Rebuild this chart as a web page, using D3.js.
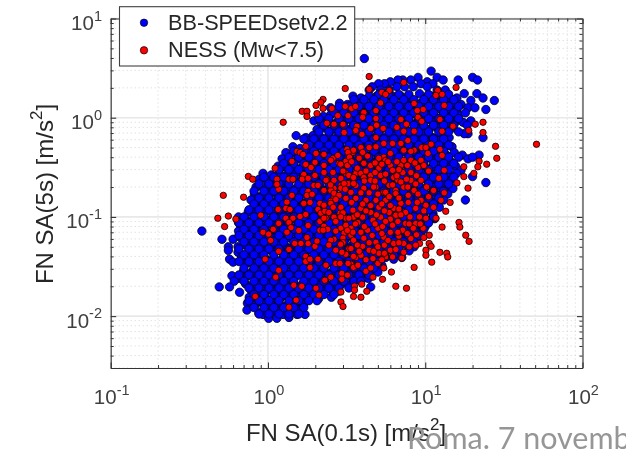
<!DOCTYPE html>
<html lang="en">
<head>
<meta charset="UTF-8">
<title>FN SA scatter</title>
<script src="https://d3js.org/d3.v7.min.js"></script>
<style>
  html, body { margin: 0; padding: 0; background: #fff; overflow: hidden; }
  svg { display: block; font-family: "Liberation Sans", Arial, sans-serif; filter: blur(0.35px); }
</style>
</head>
<body>
<svg id="chart" width="626" height="450"></svg>
<script>
// tick values
const majorTicksX = [0.1, 1, 10, 100];
const majorTicksY = [0.01, 0.1, 1, 10];
const minorSteps = [2, 3, 4, 5, 6, 7, 8, 9];
const seriesNames = ["BB-SPEEDsetv2.2", "NESS (Mw<7.5)"];

// BB-SPEED, each row is [SA(5s), SA(0.1s)...]
const blueRows = [
  [3.95, 4.1],
  [2.95, 10.9], [2.55, 11.9, 9, 20], [2.4, 13, 16.2, 8.1, 7.2, 6.7, 21.5], [2.3, 10.3, 6],
  [2.2, 5.5, 5.05, 9.4, 11.2], [2.05, 4.6, 7.4, 8.4, 6.6, 10.3], [1.9, 13.4, 5.9, 5.2, 4.4, 11.9], [1.75, 9.2, 17.7, 21.3],
  [1.65, 3.47, 4.4, 4.9, 6.2, 7, 11.2, 12.6], [1.58, 3.9, 5.5, 7.9, 10, 14.2, 15.9, 23.3],
  [1.49, 19.5, 27.5], [1.4, 2.85, 3.7, 4.6, 5.9, 7.4, 9.4, 11.9, 15], [1.36, 3.2, 4.1, 5.2, 6.6, 8.4, 10.6, 13.4, 16.9],
  [1.26, 2.5, 18.7, 20.7], [1.21, 3.1, 3.9, 4.9, 6.2, 7.9, 10, 12.6, 15.9, 24.3], [1.18, 2.85, 3.47, 4.4, 5.5, 7, 8.9, 11.2, 14.2],
  [1.07, 2.5, 3.2, 4, 5, 6.4, 8.1, 10.3, 13, 16.3], [1.03, 2.25, 2.85, 3.6, 4.5, 5.7, 7.2, 9.1, 11.5, 14.6],
  [0.93, 1.96, 2.44, 3.09, 3.9, 4.9, 6.2, 7.9, 10, 12.6, 15.9, 19.5], [0.9, 2.17, 2.75, 3.47, 4.4, 5.5, 7, 8.9, 11.2, 14.2, 17.4],
  [0.79, 2.3, 2.91, 3.68, 4.6, 5.9, 7.4, 9.4, 11.9, 15], [0.76, 2.05, 2.59, 3.27, 4.1, 5.2, 6.6, 8.4, 10.6, 13.4],
  [0.69, 18.7, 17.7], [0.66, 1.51, 1.93, 2.44, 3.09, 3.9, 4.9, 6.2, 7.9, 10, 12.6], [0.63, 1.74, 2.17, 2.75, 3.47, 4.4, 5.5, 7, 8.9, 11.2, 14.2, 23.3],
  [0.59, 1.82, 2.3, 2.91, 3.68, 4.6, 5.9, 7.4, 9.4, 11.9], [0.565, 2.05, 2.59, 3.27, 4.1, 5.2, 6.6, 8.4, 10.6, 13.4],
  [0.51, 1.44, 1.8, 2.27, 2.88, 3.63, 4.6, 5.8, 7.3, 9.3, 11.8, 14.8], [0.49, 1.6, 2, 2.55, 3.23, 4.1, 5.1, 6.5, 8.3, 10.5, 13.2],
  [0.445, 1.3, 1.46, 1.85, 2.34, 2.96, 3.74, 4.7, 6, 7.6, 9.6, 12.1, 15.3], [0.42, 1.64, 2.08, 2.63, 3.33, 4.2, 5.3, 6.7, 8.5, 10.8, 13.6, 17.2, 22],
  [0.385, 1.23, 1.55, 1.96, 2.48, 3.13, 4, 5, 6.3, 8, 10.1, 12.8, 18.7], [0.365, 1.38, 1.75, 2.2, 2.79, 3.5, 4.5, 5.6, 7.1, 9, 11.4, 14.4],
  [0.325, 1.16, 1.47, 1.86, 2.35, 2.97, 3.76, 4.8, 6, 7.7, 9.7, 12.3, 15.6], [0.315, 1.3, 1.65, 2.09, 2.64, 3.34, 4.2, 5.4, 6.8, 8.6, 11, 13.9], [0.295, 16.9],
  [0.275, 0.93, 1.18, 1.5, 1.89, 2.39, 3.03, 3.83, 4.85, 6.1, 7.8, 9.9, 12.5, 15.8], [0.265, 1.05, 1.33, 1.68, 2.13, 2.69, 3.4, 4.3, 5.45, 6.9, 8.8, 11.1, 14], [0.255, 20],
  [0.24, 0.88, 1.1, 1.4, 1.78, 2.25, 2.85, 3.6, 4.55, 5.75, 7.3, 9.2, 11.7, 14.8], [0.228, 0.99, 1.25, 1.58, 2, 2.53, 3.2, 4.05, 5.1, 6.5, 8.2, 10.4, 13.1], [0.222, 24.3],
  [0.2, 0.84, 1.06, 1.34, 1.7, 2.15, 2.72, 3.44, 4.35, 5.5, 7, 8.85, 11.2, 14.1], [0.193, 0.94, 1.19, 1.51, 1.91, 2.42, 3.06, 3.87, 4.9, 6.2, 7.85, 9.9, 12.5, 15],
  [0.17, 0.82, 1.03, 1.31, 1.65, 2.09, 2.64, 3.34, 4.2, 5.4, 6.8, 8.6, 11, 13.9], [0.164, 0.92, 1.16, 1.47, 1.86, 2.35, 2.97, 3.76, 4.8, 6, 7.7, 9.7, 12.3],
  [0.148, 0.78, 0.99, 1.25, 1.58, 2, 2.53, 3.2, 4.05, 5.1, 6.5, 8.2, 10.4, 13.1, 18], [0.142, 0.88, 1.11, 1.41, 1.78, 2.25, 2.85, 3.6, 4.55, 5.75, 7.3, 9.2, 11.7],
  [0.13, 0.82, 1.03, 1.31, 1.65, 2.09, 2.64, 3.34, 4.2, 5.4, 6.8, 8.6, 11], [0.125, 0.92, 1.16, 1.47, 1.86, 2.35, 2.97, 3.76, 4.8, 6, 7.7, 9.7, 12.3],
  [0.112, 0.75, 0.95, 1.2, 1.52, 1.92, 2.43, 3.07, 3.88, 4.9, 6.2, 7.85, 9.9], [0.108, 0.84, 1.07, 1.35, 1.71, 2.16, 2.73, 3.45, 4.36, 5.5, 7, 8.85, 11.2], [0.1, 0.65],
  [0.096, 0.71, 0.9, 1.14, 1.44, 1.82, 2.3, 2.91, 3.68, 4.6, 5.9, 7.4, 9.4, 11.5], [0.0925, 0.8, 1.01, 1.28, 1.62, 2.05, 2.59, 3.27, 4.1, 5.2, 6.6, 8.4, 10.6], [0.088, 0.65],
  [0.083, 0.67, 0.85, 1.08, 1.36, 1.72, 2.17, 2.75, 3.47, 4.4, 5.5, 7, 8.9], [0.08, 0.76, 0.96, 1.21, 1.53, 1.93, 2.44, 3.09, 3.9, 4.9, 6.2, 7.9, 10],
  [0.072, 0.38, 0.65], [0.071, 0.71, 0.9, 1.14, 1.44, 1.82, 2.3, 2.91, 3.68, 4.6, 5.9, 7.4, 9.4], [0.0685, 0.8, 1.01, 1.28, 1.62, 2.05, 2.59, 3.27, 4.1, 5.2, 6.6, 8.4],
  [0.0615, 0.67, 0.85, 1.08, 1.36, 1.72, 2.17, 2.75, 3.47, 4.4, 5.5, 7, 8.9], [0.0595, 0.51, 0.6, 0.76, 0.96, 1.21, 1.53, 1.93, 2.44, 3.09, 3.9, 4.9, 6.2, 7.9],
  [0.052, 0.72, 0.91, 1.15, 1.46, 1.85, 2.34, 2.96, 3.74, 4.7, 6, 7.6], [0.05, 0.56, 0.645, 0.81, 1.03, 1.3, 1.64, 2.08, 2.63, 3.33, 4.2, 5.3, 6.7, 8.5], [0.046, 0.56],
  [0.0455, 0.76, 0.96, 1.21, 1.53, 1.93, 2.44, 3.09, 3.9, 4.9, 6.2, 7.9], [0.044, 0.645, 0.85, 1.08, 1.36, 1.72, 2.17, 2.75, 3.47, 4.4, 5.5, 7],
  [0.039, 0.68, 0.86, 1.09, 1.38, 1.75, 2.2, 2.79, 3.5, 4.5, 5.6, 7.1], [0.0375, 0.57, 0.77, 0.97, 1.23, 1.55, 1.96, 2.48, 3.13, 4, 5, 6.3], [0.035, 0.6],
  [0.0335, 0.72, 0.91, 1.15, 1.46, 1.85, 2.34, 2.96, 3.74, 4.7], [0.0325, 0.81, 1.03, 1.3, 1.64, 2.08, 2.63, 3.33, 4.2, 5.3],
  [0.0285, 0.7, 0.89, 1.13, 1.43, 1.81, 2.29, 2.89, 3.65, 4.6], [0.0278, 0.79, 1, 1.27, 1.61, 2.03, 2.57, 3.25, 4.1, 5],
  [0.0255, 0.59, 0.74, 0.94, 1.19, 1.51, 1.91, 2.42, 3.06, 3.87], [0.024, 0.66, 0.84, 1.06, 1.34, 1.7, 2.15, 2.72, 3.44, 4.35], [0.0225, 0.61],
  [0.0212, 0.72, 0.91, 1.15, 1.46, 1.85, 2.34, 2.96], [0.0205, 0.81, 1.03, 1.3, 1.64, 2.08, 2.63, 3.3], [0.0197, 0.49, 0.57, 4.5],
  [0.0183, 0.78, 0.99, 1.25, 1.58, 2, 2.53], [0.0178, 0.88, 1.11, 1.41, 1.78, 2.25, 2.8], [0.0174, 0.66],
  [0.0155, 0.76, 0.96, 1.21, 1.53, 1.93, 2.53], [0.015, 0.85, 1.08, 1.36, 1.72, 2.1],
  [0.0135, 0.74, 0.93, 1.18, 1.5], [0.013, 0.83, 1.05, 1.33, 1.68],
  [0.0115, 0.735, 0.96, 1.21, 1.53], [0.0112, 1.08, 1.36], [0.0108, 0.875],
  [0.0104, 0.93, 1.25, 1.53, 1.72], [0.0097, 1.36], [0.0095, 1.01, 1.14]
];

// second pass over the same cloud, points seen between the bands above
const blueRowsInner = [
  [1.72, 5.07, 5.87, 6.8, 7.87, 10.5, 12.2, 14.1],
  [1.52, 3.52, 4.08, 4.72, 5.46, 6.32, 7.3, 8.47, 9.8, 11.3, 13.1, 15.2],
  [1.3, 2.83, 3.27, 3.79, 4.38, 5.07, 5.87, 6.8, 7.87, 9.1, 10.5, 12.2, 14.1, 16.3],
  [1.12, 2.63, 3.04, 3.52, 4.08, 4.72, 5.46, 6.32, 7.3, 8.47, 9.8, 11.3, 13.1, 15.2, 18],
  [0.98, 2.11, 2.44, 2.83, 3.27, 3.79, 4.38, 5.07, 5.87, 6.8, 7.87, 9.1, 10.5, 12.2, 14.1, 16.3],
  [0.84, 2.27, 2.63, 3.04, 3.52, 4.08, 4.72, 5.46, 6.32, 7.3, 8.47, 9.8, 11.3, 13.1, 15.2, 18.5],
  [0.72, 2.11, 2.44, 2.83, 3.27, 3.79, 4.38, 5.07, 5.87, 6.8, 7.87, 9.1, 10.5, 12.2, 14.1, 16.3],
  [0.61, 1.69, 1.96, 2.27, 2.63, 3.04, 3.52, 4.08, 4.72, 5.46, 6.32, 7.3, 8.47, 9.8, 11.3, 13.1],
  [0.53, 1.82, 2.11, 2.44, 2.83, 3.27, 3.79, 4.38, 5.07, 5.87, 6.8, 7.87, 9.1, 10.5, 12.2, 14.1],
  [0.46, 1.46, 1.69, 1.96, 2.27, 2.63, 3.04, 3.52, 4.08, 4.72, 5.46, 6.32, 7.3, 8.47, 9.8, 11.3, 13.1],
  [0.4, 1.36, 1.57, 1.82, 2.11, 2.44, 2.83, 3.27, 3.79, 4.38, 5.07, 5.87, 6.8, 7.87, 9.1, 10.5, 12.2, 14.1, 16.3, 20],
  [0.345, 1.26, 1.46, 1.69, 1.96, 2.27, 2.63, 3.04, 3.52, 4.08, 4.72, 5.46, 6.32, 7.3, 8.47, 9.8, 11.3, 13.1, 15.2],
  [0.3, 1.175, 1.36, 1.57, 1.82, 2.11, 2.44, 2.83, 3.27, 3.79, 4.38, 5.07, 5.87, 6.8, 7.87, 9.1, 10.5, 12.2, 14.1],
  [0.252, 0.943, 1.09, 1.26, 1.46, 1.69, 1.96, 2.27, 2.63, 3.04, 3.52, 4.08, 4.72, 5.46, 6.32, 7.3, 8.47, 9.8, 11.3, 13.1, 15.2],
  [0.215, 0.877, 1.015, 1.175, 1.36, 1.57, 1.82, 2.11, 2.44, 2.83, 3.27, 3.79, 4.38, 5.07, 5.87, 6.8, 7.87, 9.1, 10.5, 12.2, 14.1],
  [0.182, 0.815, 0.943, 1.09, 1.26, 1.46, 1.69, 1.96, 2.27, 2.63, 3.04, 3.52, 4.08, 4.72, 5.46, 6.32, 7.3, 8.47, 9.8, 11.3, 13.1],
  [0.155, 0.877, 1.015, 1.175, 1.36, 1.57, 1.82, 2.11, 2.44, 2.83, 3.27, 3.79, 4.38, 5.07, 5.87, 6.8, 7.87, 9.1, 10.5, 12.2],
  [0.135, 0.815, 0.943, 1.09, 1.26, 1.46, 1.69, 1.96, 2.27, 2.63, 3.04, 3.52, 4.08, 4.72, 5.46, 6.32, 7.3, 8.47, 9.8, 11.3],
  [0.118, 0.757, 0.877, 1.015, 1.175, 1.36, 1.57, 1.82, 2.11, 2.44, 2.83, 3.27, 3.79, 4.38, 5.07, 5.87, 6.8, 7.87, 9.1, 10.5],
  [0.1, 0.704, 0.815, 0.943, 1.09, 1.26, 1.46, 1.69, 1.96, 2.27, 2.63, 3.04, 3.52, 4.08, 4.72, 5.46, 6.32, 7.3, 8.47, 9.8, 11.3],
  [0.087, 0.654, 0.757, 0.877, 1.015, 1.175, 1.36, 1.57, 1.82, 2.11, 2.44, 2.83, 3.27, 3.79, 4.38, 5.07, 5.87, 6.8, 7.87, 9.1, 10.5],
  [0.075, 0.704, 0.815, 0.943, 1.09, 1.26, 1.46, 1.69, 1.96, 2.27, 2.63, 3.04, 3.52, 4.08, 4.72, 5.46, 6.32, 7.3, 8.47, 9.8],
  [0.065, 0.654, 0.757, 0.877, 1.015, 1.175, 1.36, 1.57, 1.82, 2.11, 2.44, 2.83, 3.27, 3.79, 4.38, 5.07, 5.87, 6.8, 7.87, 9.1],
  [0.056, 0.704, 0.815, 0.943, 1.09, 1.26, 1.46, 1.69, 1.96, 2.27, 2.63, 3.04, 3.52, 4.08, 4.72, 5.46, 6.32, 7.3, 8.47],
  [0.0475, 0.654, 0.757, 0.877, 1.015, 1.175, 1.36, 1.57, 1.82, 2.11, 2.44, 2.83, 3.27, 3.79, 4.38, 5.07, 5.87, 6.8],
  [0.0415, 0.704, 0.815, 0.943, 1.09, 1.26, 1.46, 1.69, 1.96, 2.27, 2.63, 3.04, 3.52, 4.08, 4.72, 5.46, 6.32],
  [0.0355, 0.654, 0.757, 0.877, 1.015, 1.175, 1.36, 1.57, 1.82, 2.11, 2.44, 2.83, 3.27, 3.79, 4.38, 5.07],
  [0.0305, 0.704, 0.815, 0.943, 1.09, 1.26, 1.46, 1.69, 1.96, 2.27, 2.63, 3.04, 3.52, 4.08, 4.72],
  [0.026, 0.654, 0.757, 0.877, 1.015, 1.175, 1.36, 1.57, 1.82, 2.11, 2.44, 2.83, 3.27, 3.79, 4.38],
  [0.0225, 0.704, 0.815, 0.943, 1.09, 1.26, 1.46, 1.69, 1.96, 2.27, 2.63, 3.04, 3.52, 3.9],
  [0.0192, 0.757, 0.877, 1.015, 1.175, 1.36, 1.57, 1.82, 2.11, 2.44, 2.83, 3.27],
  [0.0165, 0.815, 0.943, 1.09, 1.26, 1.46, 1.69, 1.96, 2.27, 2.63],
  [0.0143, 0.757, 0.877, 1.015, 1.175, 1.36, 1.57, 1.82, 2.05],
  [0.0122, 0.815, 0.943, 1.09, 1.26, 1.46, 1.69],
  [0.0105, 0.877, 1.015, 1.175, 1.36, 1.57]
];

// NESS records, [SA(0.1s), SA(5s)]
const redPoints = [
  [4.4,2.6],[3.1,1.97],[7.3,2.27],[15.7,2.02],[4.4,1.93],[2.24,1.53],[2.24,1.24],[2.55,1.24],[5.3,1.8],[5.9,1.88],[5.6,1.72],[12,1.88],[11.7,1.68],[12.8,1.72],[5.2,1.41],[8.5,1.39],[9.7,1.21],[8.9,1.18],[13.2,1.33],[3.1,1.3],[3.4,1.24],[3.6,1.3],
  [23.3,.9],[20.8,.86],[18.9,.745],[15,.82],[23.3,.71],[12.8,.73],[8.5,.73],[12.4,.96],[28,.515],[28.5,.39],[51,.54],[24.6,.34],[17.6,.32],[20.4,.275],[22,.365],[21.6,.32],[17.6,.255],[15.9,.22],[18.7,.195],[13.2,.175],
  [1.25,.9],[1.65,1.16],[1.77,1.16],[1.77,1.03],[2.02,1.33],[2.05,1.1],[2.17,1.43],
  [.75,.256],[.8,.24],[.52,.165],[.7,.158],[.56,.102],[.48,.097],[.625,.095],[.53,.08],[.9,.104],[1.16,.119],[.93,.07],[1.08,.075],[1.01,.067],[1.04,.058],[1.17,.045],[1.36,.047],[.96,.0375],[1.17,.029],[1.12,.0247],[1.46,.0205],[1.64,.02],[.83,.0158],[1.51,.0145],[1.36,.0123],[2.02,.0191],[2.11,.0163],[2.91,.0175],[2.91,.0139],[3,.0125],[3.5,.0158],[3.9,.0155],
  [1.17,.19],[1.11,.31],[1.42,.363],[1.14,.24],[1.14,.213],[1.36,.24],[1.44,.24],[1.42,.165],[1.32,.141],[1.3,.122],[1.38,.119],[1.3,.097],[1.44,.097],[1.17,.086],[1.36,.088],[1.4,.078],[1.32,.07],[1.57,.073],[1.48,.054],[1.62,.054],[1.77,.062],[1.8,.054],[1.99,.0505],[2.05,.057],[1.74,.04],[1.74,.0355],[1.85,.0375],[1.85,.031],[2.08,.0375],[2.34,.0326],[2.7,.034],[2.87,.034],[2.3,.023],[2.51,.0247],[2.95,.027],[2.95,.0235],[3.2,.0259],[3.55,.0201],[3.55,.0183],[1.6,.101],[1.74,.106],[1.8,.082],
  [1.53,.458],[1.6,.447],[1.67,.427],[1.74,.514],[1.74,.338],[1.88,.315],[1.99,.355],[2.24,.427],[2.02,.437],[2.59,.39],[2.78,.417],[3.18,.48],[3.47,.447],[1.69,.268],[1.65,.24],[1.8,.245],[1.99,.262],[2.27,.281],[2.59,.281],[3.13,.364],[2.83,.347],[1.96,.208],[1.8,.181],[1.77,.165],[1.91,.169],[2.08,.208],[2.27,.185],[2.37,.24],[2.63,.194],[2.91,.208],[2.63,.158],[2.51,.144],[1.69,.137],[1.85,.14],[2.14,.137],[2.08,.119],[2.17,.109],[2.3,.114],[2.63,.0995],[2.87,.109],[3.13,.097],[3.5,.0995],[2.14,.09],[2.34,.097],[2.27,.0805],[2.14,.0734],[2.4,.075],[2.7,.09],[2.63,.0595],[2.91,.077],[3.05,.0685],[3.37,.077],[3,.0612],[3.37,.0654],[3.27,.0478],[3.13,.042],[2.95,.044],[3.37,.0335],[3.5,.031],[3.62,.039],
  [14.4,.14],[13.5,.114],[12.6,.147],[12.8,.079],[16.4,.088],[16.6,.079],[18.1,.0654],[19,.0567],[10.6,.0654],[9.2,.054],[10.6,.054],[10.9,.0505],[10.1,.0462],[10.1,.0411],[12.4,.044],[13.7,.043],[13.9,.0395],[11,.035],[8.5,.031],[7.1,.0385],[6.1,.0278],[5.45,.0306],[5.35,.0235],[4.65,.0247],[3.95,.021],[6.5,.02],[7.6,.0191],[4.25,.0178],[4.2,.0283],[4.5,.0306],[5,.034],
  [2.78,1.05],[3.23,1.05],[4.07,1.13],[4.86,1.18],[4,1.01],[4.86,.98],[7,.96],[6.6,.8],[7.6,.86],[9,1.01],[9.5,.92],[7.3,.73],[4.5,.78],[5.4,.78],[4.9,.84],[3,.86],[2.63,.86],[3.68,.82],[3.62,.745],[3.96,.68],[3.05,.71],[2.37,.88],[4.86,.63],[5.45,.55],[6.2,.55],[7,.55],[7.75,.59],[9.5,.5],[10.9,.54],[10.1,.5],[10.4,.437],[8.5,.47],[12.8,.417],[12.4,.48],
  [2.27,.427],[3.5,.47],[3.9,.5],[4.4,.5],[4.86,.51],[4,.447],[3.23,.447],[5.45,.4],[6,.437],[7.3,.47],[8.1,.458],[5.07,.39],[4.07,.347],[4.5,.33],[5.6,.372],[7,.33],[7.3,.372],[8.1,.372],[9.4,.372],[6,.33],[9,.315],[8.1,.28],[7.2,.28],[3.13,.275],[3.62,.275],[3.9,.275],[2.27,.33],[2.51,.372],[5.07,.31],[6.2,.295],[6.3,.25],[5.2,.262],[4.5,.262],[4.07,.25],[3.27,.262],[2.91,.245],[2.63,.234],[2.34,.234],[3.62,.208],[3.23,.217],[2.51,.185],[2.91,.195],[4.07,.195],[4.86,.2],[5.9,.208],[5.45,.177],[6.5,.185],[7.3,.2],[8.5,.185],[9.4,.234],[12.2,.245],[11.3,.185],[13.2,.295],
  [2.63,.173],[3.05,.217],[3.5,.217],[4.7,.2],[5.6,.177],[6.5,.172],[7.75,.2],[9.4,.147],[11.3,.125],[11.7,.097],[10.1,.097],[8.7,.086],[7.5,.086],[6.3,.122],[7,.137],[5.9,.111],[5.2,.0995],[4.5,.111],[4,.0995],[3.47,.117],[2.91,.125],[2.51,.137],[2.27,.097],[3.13,.0824],[3.73,.088],[4.3,.0734],[5,.077],[6.2,.0824],[7.2,.0734],[8.4,.077],[9.7,.077],[7.3,.054],[6.3,.054],[5.45,.0625],[4.86,.0555],[4.07,.061],[3.5,.0582],[2.51,.0582],[2.24,.0734],[4.4,.0462],[5.07,.043],[6.2,.0395],[5.6,.0395],[3.23,.034],[3.73,.0326],
  [4.86,.147],[4.2,.147],[3.62,.154],[3.13,.154],[5.6,.147],[4.65,.0925],[5.35,.08],[3.47,.07],[4,.0505],[3.37,.048],[2.7,.0462],[2.44,.052],[5.5,.0519],[6.8,.064],[8.1,.0605],[4.5,.234],[6.7,.234],[8.1,.234],[3.37,.177],[3.9,.122],[3.27,.097],[5.07,.125],[7.5,.111],[8.7,.122],[6.5,.104],[10.1,.131],[3.9,.041],[4.65,.038],[6,.0462],[7.3,.044],[8.7,.0519],[2.83,.165],[2.44,.111],[2.27,.131],
  [3.3,.4],[3.8,.39],[4.3,.41],[4.8,.35],[5.3,.34],[5.8,.36],[6.6,.36],[6.8,.3],[7.7,.33],[8.6,.35],[9.8,.33],[3.2,.33],[3.7,.31],[4.2,.29],[4.8,.28],[5.6,.27],[6.6,.26],[7.6,.24],[8.8,.26],[10.5,.29],[3,.29],[3.5,.25],[4.1,.23],[4.8,.23],[5.5,.23],[6.2,.21],[7,.225],[8.7,.215],[10.2,.2],[3.1,.19],[3.9,.175],[4.4,.175],[5,.17],[5.9,.16],[6.8,.155],[7.8,.165],[9,.17],[10.5,.16],[3.4,.14],[4,.135],[4.5,.13],[5.3,.135],[6,.13],[6.8,.12],[7.8,.14],[8.9,.14],[9.8,.115],[3,.11],[3.7,.105],[4.2,.115],[4.9,.105],[5.5,.115],[6,.095],[7,.105],[8,.1],[9.2,.1],[3.6,.085],[4.1,.08],[4.8,.085],[5.6,.09],[6.7,.09],[7.9,.085],[9.3,.085],[3.2,.073],[3.9,.07],[4.6,.065],[5.3,.068],[6,.07],[6.7,.07],[7.7,.068],[8.8,.066],[9.8,.062],[3,.055],[3.7,.052],[4.4,.055],[5,.05],[5.8,.058],[6.8,.055],[7.9,.05],[3.8,.045],[4.7,.045],[5.5,.043],[6.5,.047],[2.9,.053],[3.5,.04],[4.2,.037],[5.3,.037],[2.7,.072],[2.9,.1],[2.6,.125],[2.7,.15],[2.5,.21],[2.9,.34],[3.4,.36]
];

const bluePoints = blueRows.concat(blueRowsInner).flatMap(r => r.slice(1).map(v => [v, r[0]]));

const plotLeft = 110.7, plotRight = 582.5, plotTop = 18.5, plotBottom = 368;
const darkText = "#404040", axisColor = "#333";

const x = d3.scaleLog().domain([0.1, 100]).range([plotLeft, plotRight]);
const y = d3.scaleLog().domain([0.003, 10]).range([plotBottom, plotTop]);

const minorX = majorTicksX.slice(0, -1).flatMap(t => minorSteps.map(s => s * t));
const minorY = [0.001, 0.01, 0.1, 1].flatMap(t => minorSteps.map(s => s * t)).filter(v => v >= 0.003 && v <= 10);

const svg = d3.select("#chart");

// grid
const grid = svg.append("g");
grid.append("g").selectAll("line").data(minorX).join("line")
  .attr("x1", d => x(d)).attr("x2", d => x(d)).attr("y1", plotTop).attr("y2", plotBottom)
  .attr("stroke", "#d4d4d4").attr("stroke-dasharray", "1 3");
grid.append("g").selectAll("line").data(minorY).join("line")
  .attr("y1", d => y(d)).attr("y2", d => y(d)).attr("x1", plotLeft).attr("x2", plotRight)
  .attr("stroke", "#d4d4d4").attr("stroke-dasharray", "1 3");
grid.append("g").selectAll("line").data(majorTicksX).join("line")
  .attr("x1", d => x(d)).attr("x2", d => x(d)).attr("y1", plotTop).attr("y2", plotBottom)
  .attr("stroke", "#e8e8e8").attr("stroke-width", 1.6);
grid.append("g").selectAll("line").data(majorTicksY).join("line")
  .attr("y1", d => y(d)).attr("y2", d => y(d)).attr("x1", plotLeft).attr("x2", plotRight)
  .attr("stroke", "#e8e8e8").attr("stroke-width", 1.6);

// points
const drawPoints = (data, fill, r) => svg.append("g").selectAll("circle").data(data).join("circle")
  .attr("cx", d => x(d[0])).attr("cy", d => y(d[1])).attr("r", r)
  .attr("fill", fill).attr("stroke", "#000").attr("stroke-width", 0.8);
drawPoints(bluePoints, "#0000ff", 4.2);
drawPoints(redPoints, "#ff0000", 3.2);

// axes on all four sides, ticks pointing in
const addAxis = (axisFn, scale, transform, majors, minors) => {
  const g = svg.append("g").attr("transform", transform);
  g.call(axisFn(scale).tickValues(minors).tickSize(-3).tickSizeOuter(0).tickFormat(""));
  g.select(".domain").remove();
  g.selectAll("line").attr("stroke", axisColor);
  const g2 = svg.append("g").attr("transform", transform);
  g2.call(axisFn(scale).tickValues(majors).tickSize(-5.5).tickSizeOuter(0).tickFormat(""));
  g2.select(".domain").attr("stroke", axisColor).attr("stroke-width", 1.1);
  g2.selectAll("line").attr("stroke", axisColor).attr("stroke-width", 1.1);
};
addAxis(d3.axisBottom, x, `translate(0,${plotBottom})`, majorTicksX, minorX);
addAxis(d3.axisTop, x, `translate(0,${plotTop})`, majorTicksX, minorX);
addAxis(d3.axisLeft, y, `translate(${plotLeft},0)`, majorTicksY, minorY);
addAxis(d3.axisRight, y, `translate(${plotRight},0)`, majorTicksY, minorY);

// tick labels, 10 with a raised exponent
const powerLabel = (sel, v) => {
  sel.append("tspan").text("10");
  sel.append("tspan").attr("dy", -9.5).attr("font-size", 14.5).text(Math.round(Math.log10(v)));
};
majorTicksX.forEach(v => {
  svg.append("text").attr("x", x(v) + 1).attr("y", 404).attr("text-anchor", "middle")
    .attr("font-size", 20.5).attr("fill", darkText).call(powerLabel, v);
});
majorTicksY.forEach(v => {
  svg.append("text").attr("x", 102).attr("y", y(v) + 11.5).attr("text-anchor", "end")
    .attr("font-size", 20.5).attr("fill", darkText).call(powerLabel, v);
});

// axis titles
const title = (sel, txt) => {
  sel.append("tspan").text(txt);
  sel.append("tspan").attr("dy", -11.5).attr("font-size", 17).text("2");
  sel.append("tspan").attr("dy", 11.5).text("]");
};
svg.append("text").attr("x", 346).attr("y", 441).attr("text-anchor", "middle")
  .attr("font-size", 24).attr("fill", "#262626").call(title, "FN SA(0.1s) [m/s");
svg.append("text").attr("transform", "translate(53,194) rotate(-90)").attr("text-anchor", "middle")
  .attr("font-size", 24).attr("fill", "#262626").call(title, "FN SA(5s) [m/s");

// legend
const legend = svg.append("g");
legend.append("rect").attr("x", 119.5).attr("y", 6.7).attr("width", 235.2).attr("height", 59.3)
  .attr("fill", "#fff").attr("stroke", "#404040").attr("stroke-width", 1.1);
seriesNames.forEach((name, i) => {
  const ly = [22.7, 50.3][i];
  legend.append("circle").attr("cx", 144).attr("cy", ly).attr("r", 3.7)
    .attr("fill", i ? "#ff0000" : "#0000ff").attr("stroke", "#000").attr("stroke-width", 0.7);
  legend.append("text").attr("x", 168).attr("y", ly + 7).attr("font-size", 21.7)
    .attr("fill", "#262626").text(name);
});

// slide footer that runs over the picture
svg.append("text").attr("x", 407).attr("y", 449).attr("font-family", "Lato")
  .attr("font-size", 30.5).attr("fill", "#969696").text("Roma. 7 novemb");
</script>
</body>
</html>
